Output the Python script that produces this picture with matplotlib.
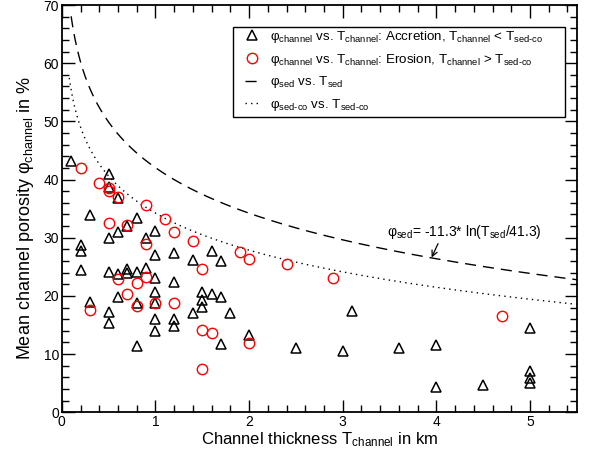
import numpy as np
import matplotlib
matplotlib.use("Agg")
import matplotlib.pyplot as plt
from matplotlib.ticker import MultipleLocator
from matplotlib.patches import Rectangle

plt.rcParams['font.family'] = ['Liberation Sans', 'DejaVu Sans']
plt.rcParams['mathtext.fontset'] = 'custom'
plt.rcParams['mathtext.rm'] = 'Liberation Sans'
plt.rcParams['mathtext.it'] = 'Liberation Sans'
plt.rcParams['mathtext.bf'] = 'Liberation Sans:bold'

# Accretion (triangles): T_channel [km], porosity [%]
acc_T = [0.1,
         0.2, 0.2, 0.2,
         0.3, 0.3,
         0.5, 0.5, 0.5, 0.5, 0.5, 0.5,
         0.6, 0.6, 0.6, 0.6,
         0.7, 0.7, 0.7,
         0.8, 0.8, 0.8, 0.8,
         0.9, 0.9,
         1.0, 1.0, 1.0, 1.0, 1.0, 1.0, 1.0,
         1.2, 1.2, 1.2, 1.2,
         1.4, 1.4,
         1.5, 1.5, 1.5,
         1.6, 1.6,
         1.7, 1.7, 1.7,
         1.8, 2.0, 2.5, 3.0, 3.1, 3.6,
         4.0, 4.0, 4.5,
         5.0, 5.0, 5.0, 5.0]
acc_phi = [43.2,
           28.8, 27.7, 24.5,
           33.9, 19.0,
           41.0, 38.8, 30.0, 24.1, 17.3, 15.4,
           36.8, 30.9, 23.8, 19.8,
           32.0, 24.6, 23.9,
           33.4, 24.1, 18.8, 11.3,
           30.0, 24.8,
           31.1, 27.0, 23.0, 20.6, 18.7, 16.0, 14.0,
           27.3, 22.4, 16.1, 14.8,
           26.1, 17.0,
           20.6, 19.3, 18.1,
           27.7, 20.4,
           26.0, 19.8, 11.7,
           17.1, 13.3, 11.1, 10.5, 17.4, 11.1,
           11.6, 4.3, 4.6,
           14.5, 7.1, 5.8, 5.0]

# Erosion (circles)
ero_T = [0.2, 0.3, 0.4,
         0.5, 0.5, 0.5,
         0.6, 0.6,
         0.7, 0.7,
         0.8, 0.8,
         0.9, 0.9, 0.9,
         1.0, 1.1,
         1.2, 1.2,
         1.4,
         1.5, 1.5, 1.5,
         1.6, 1.9, 2.0, 2.0, 2.4, 2.9, 4.7]
ero_phi = [42.0, 17.6, 39.4,
           38.6, 38.0, 32.5,
           37.0, 22.9,
           32.2, 20.3,
           22.2, 18.2,
           35.6, 28.9, 23.3,
           18.7, 33.2,
           30.9, 18.7,
           29.5,
           24.6, 14.1, 7.4,
           13.6, 27.5, 26.3, 11.9, 25.4, 23.1, 16.5]

# Curve parameters: phi = -a * ln(T / b)
sed_a, sed_b = 11.3, 41.3
sedco_a, sedco_b = 9.2, 41.3

fig = plt.figure(figsize=(5.94, 4.57), dpi=100)
ax = fig.add_axes([0.104, 0.098, 0.867, 0.891])

T1 = np.linspace(0.1, 5.5, 400)
T2 = np.linspace(0.08, 5.5, 400)
ax.plot(T1, -sed_a * np.log(T1 / sed_b), color='black', lw=1.0,
        dashes=(8, 5), label=r'φ$_{\rm sed}$ vs. T$_{\rm sed}$')
ax.plot(T2, -sedco_a * np.log(T2 / sedco_b), color='black', lw=1.0,
        dashes=(1, 3), label=r'φ$_{\text{sed-co}}$ vs. T$_{\text{sed-co}}$')

h1, = ax.plot(acc_T, acc_phi, linestyle='none', marker='^', ms=7, mfc='none',
              mec='black', mew=1.1,
              label=r'φ$_{\rm channel}$ vs. T$_{\rm channel}$: Accretion, T$_{\rm channel}$ < T$_{\text{sed-co}}$')
h2, = ax.plot(ero_T, ero_phi, linestyle='none', marker='o', ms=7.5, mfc='none',
              mec='red', mew=1.0,
              label=r'φ$_{\rm channel}$ vs. T$_{\rm channel}$: Erosion, T$_{\rm channel}$ > T$_{\text{sed-co}}$')

ax.set_xlim(0, 5.5)
ax.set_ylim(0, 70)
ax.xaxis.set_major_locator(MultipleLocator(1))
ax.xaxis.set_minor_locator(MultipleLocator(0.2))
ax.yaxis.set_major_locator(MultipleLocator(10))
ax.yaxis.set_minor_locator(MultipleLocator(2))
ax.tick_params(which='both', direction='in', top=True, right=True,
               labelsize=10, width=1.0, pad=2)
ax.tick_params(which='major', length=9)
ax.tick_params(which='minor', length=5)
for s in ax.spines.values():
    s.set_linewidth(1.3)

ax.set_xlabel(r'Channel thickness T$_{\rm channel}$ in km', fontsize=12, labelpad=1)
ax.set_ylabel(r'Mean channel porosity φ$_{\rm channel}$ in %', fontsize=13)
ax.yaxis.set_label_coords(-0.05, 0.477)

# legend box (frame drawn separately for exact padding)
ax.add_patch(Rectangle((0.332, 0.725), 0.645, 0.221, transform=ax.transAxes,
                       facecolor='white', edgecolor='black', lw=1.0, zorder=4))
handles, labels = ax.get_legend_handles_labels()
order = [2, 3, 0, 1]
leg = ax.legend([handles[i] for i in order], [labels[i] for i in order],
                loc='upper left', bbox_to_anchor=(0.355, 0.941),
                borderaxespad=0, borderpad=0, fontsize=9.6, frameon=False,
                handlelength=1.15, handletextpad=0.75, labelspacing=0.5)
leg.set_zorder(5)

ax.annotate(r'φ$_{\rm sed}$= -11.3* ln(T$_{\rm sed}$/41.3)', xy=(3.95, 26.6),
            xytext=(3.47, 31.0), fontsize=10, va='center', ha='left',
            arrowprops=dict(arrowstyle='->', color='black', lw=0.9,
                            shrinkA=0, shrinkB=0,
                            relpos=(0.34, 0.0)))

fig.savefig('out.png', dpi=100)
